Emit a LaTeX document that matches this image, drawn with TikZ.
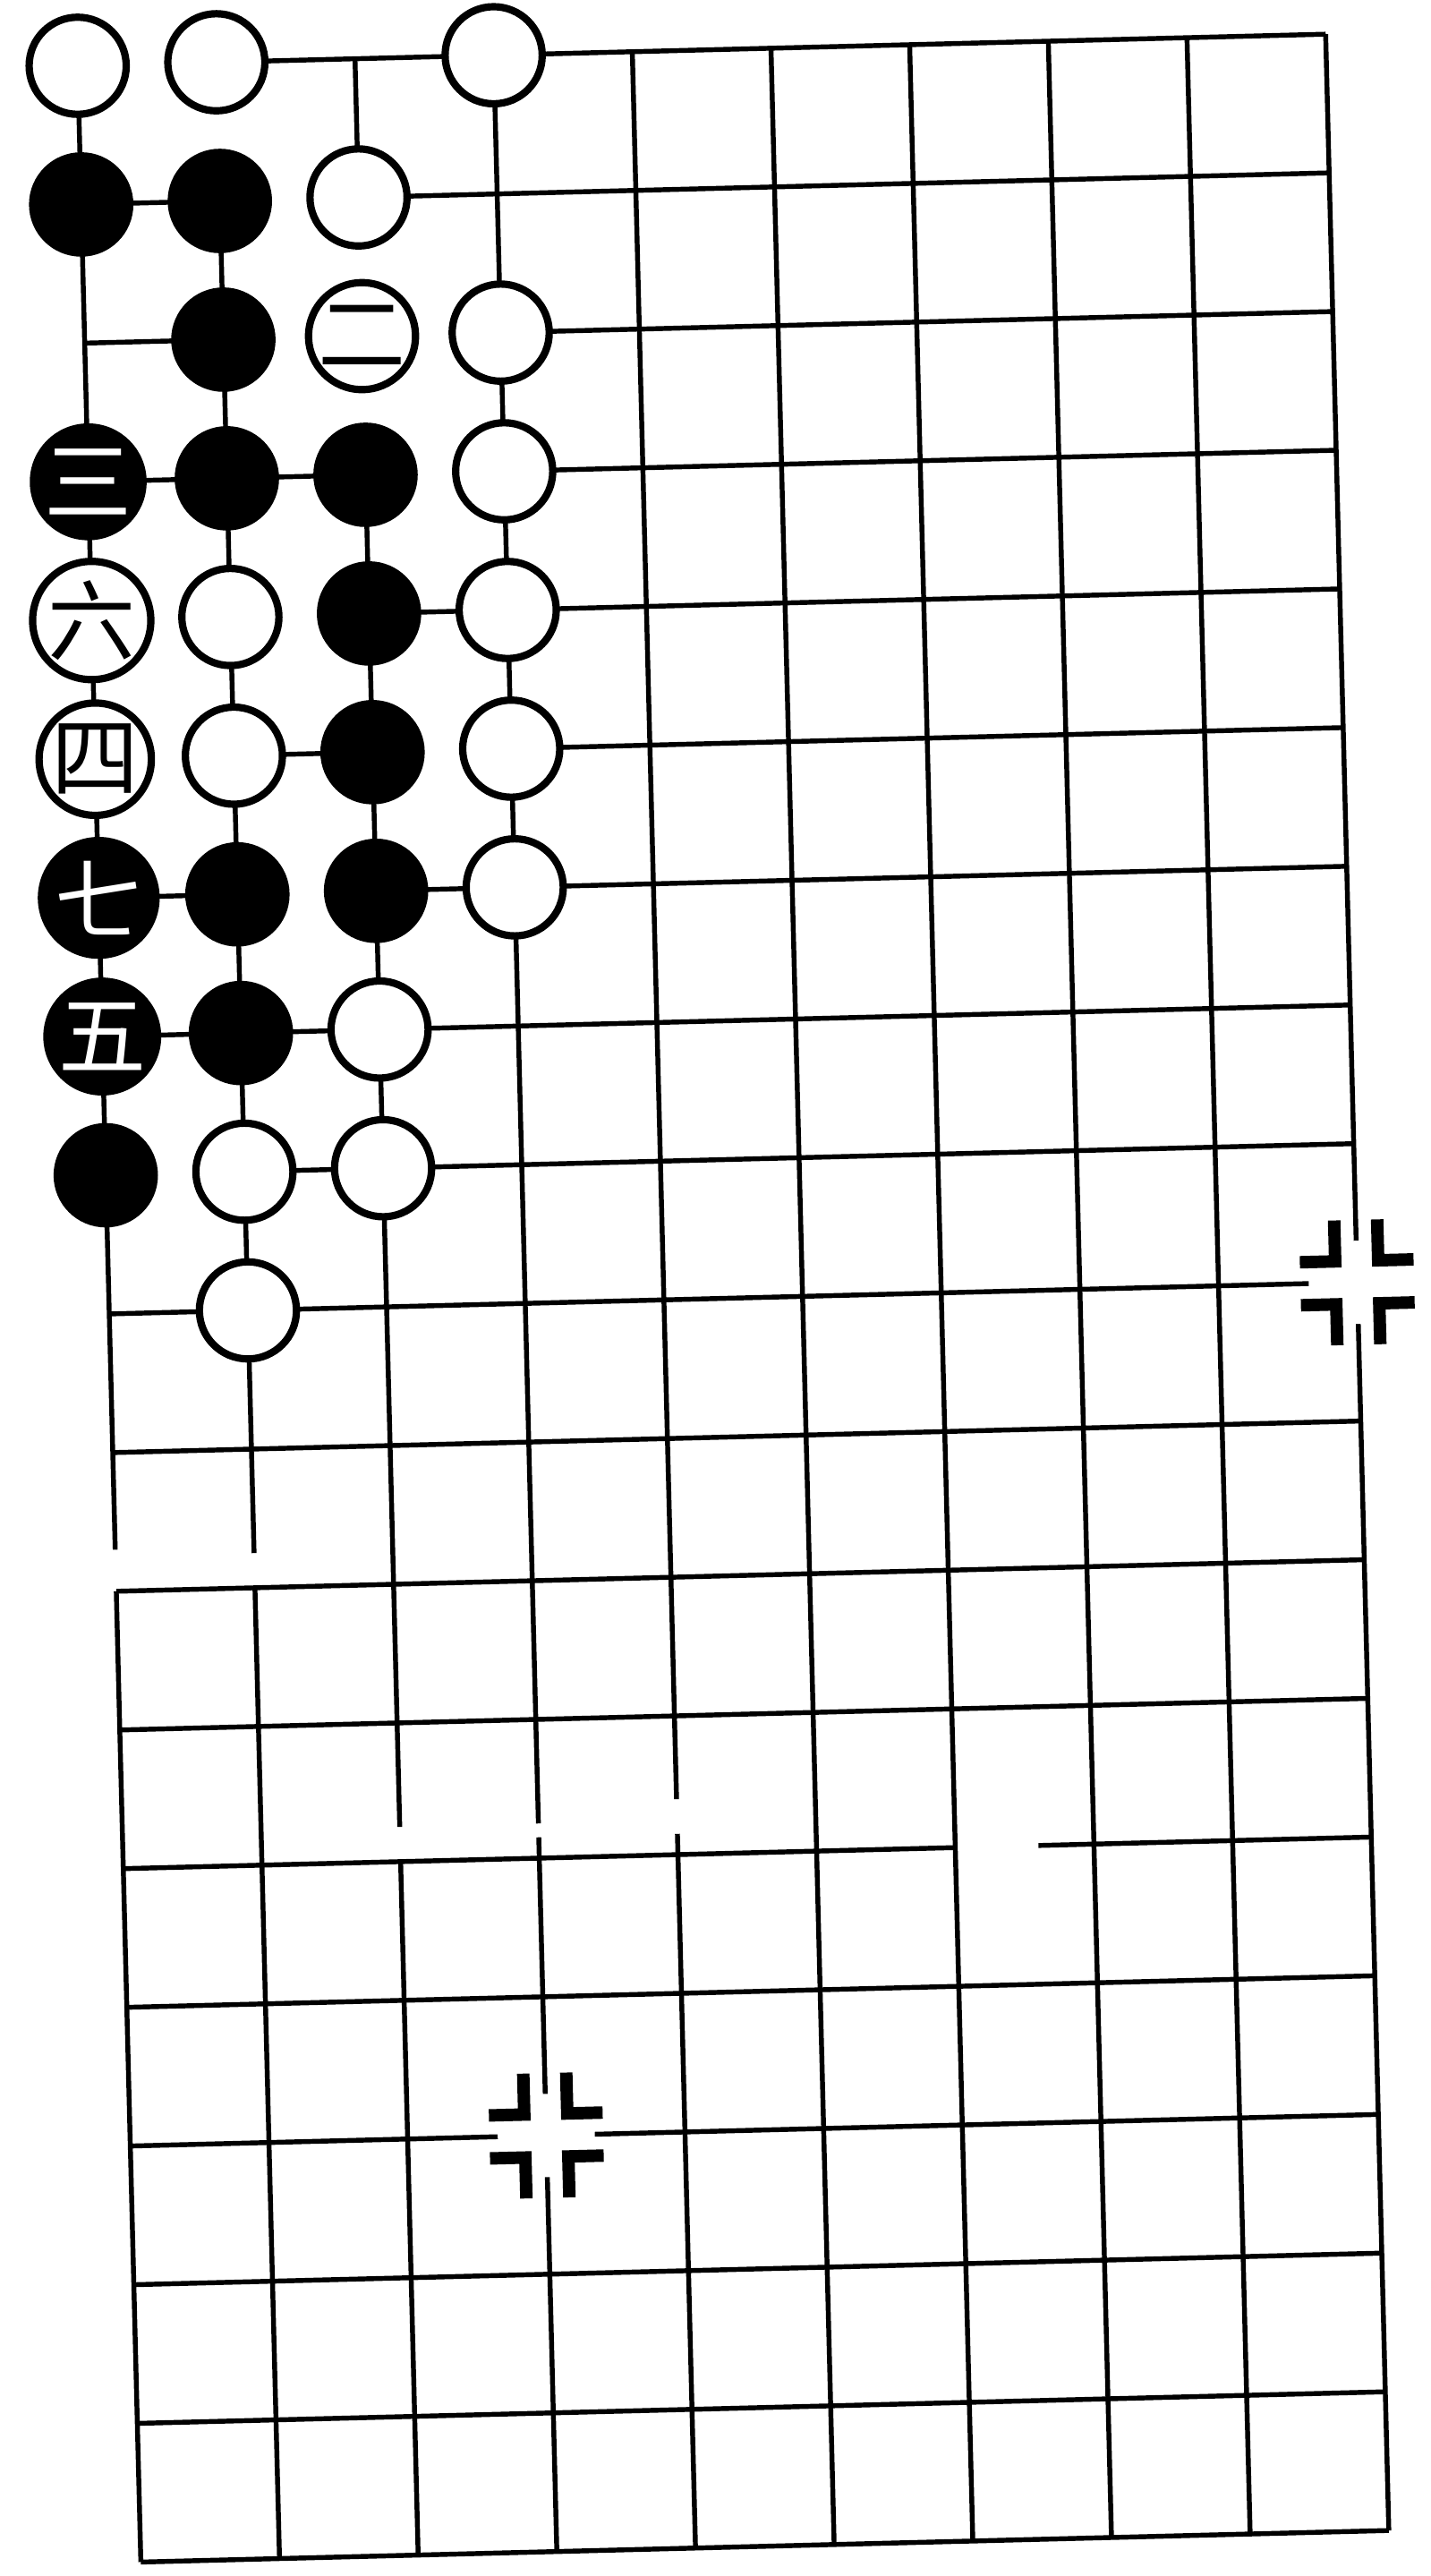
\documentclass[tikz,border=0pt]{standalone}
\usepackage{fontspec}
\newfontfamily\cjk{Noto Sans CJK TC}

% star point mark: four corner pieces round the point
\newcommand{\starmark}[1]{%
  \begin{scope}[shift={#1}]
    \fill[white] (-0.35,-0.3) rectangle (0.35,0.3);
    \foreach \sx/\sy in {1/1,-1/1,1/-1,-1/-1}
      \fill[xscale=\sx, yscale=\sy] (0.11,0.11) -- (0.41,0.11) -- (0.41,0.2)
        -- (0.2,0.2) -- (0.2,0.45) -- (0.11,0.45) -- cycle;
  \end{scope}}

\begin{document}
\begin{tikzpicture}[line width=1pt,
    wstone/.style={circle, draw, line width=1.5pt, fill=white, minimum size=0.7cm, inner sep=0pt,
      font=\cjk\fontsize{18pt}{18pt}\selectfont},
    bstone/.style={circle, draw, line width=1.5pt, fill=black, text=white, minimum size=0.7cm, inner sep=0pt,
      font=\cjk\fontsize{18pt}{18pt}\selectfont}]
  \useasboundingbox (0,0) rectangle (10.31,-18.568);

  % the board (half of it), a little tilted
  \begin{scope}[shift={(0.56,-0.474)}, rotate=1.45]

    % horizontal lines
    \draw (1,0) -- (9,0);
    \draw (0,-1) -- (1,-1) (2,-1) -- (9,-1);
    \draw (0,-2) -- (1,-2) (3,-2) -- (9,-2);
    \draw (0,-3) -- (2,-3) (3,-3) -- (9,-3);
    \draw (2,-4) -- (9,-4);
    \draw (1,-5) -- (2,-5) (3,-5) -- (9,-5);
    \draw (0,-6) -- (1,-6) (2,-6) -- (9,-6);
    \draw (0,-7) -- (9,-7);
    \draw (1,-8) -- (9,-8);
    \foreach \r in {9,10,11,12,14,15,16,17,18}
      \draw (0,-\r) -- (9,-\r);
    \draw (0,-13) -- (6,-13) (6.6,-13) -- (9,-13);

    % vertical lines
    \draw (0,0) -- (0,-10.7) (0,-11) -- (0,-18);
    \draw (1,-1) -- (1,-10.75) (1,-11) -- (1,-18);
    \draw (2,0) -- (2,-1) (2,-3) -- (2,-12.75) (2,-13) -- (2,-18);
    \draw (3,0) -- (3,-12.75) (3,-12.85) -- (3,-18);
    \draw (4,0) -- (4,-12.6) (4,-12.85) -- (4,-18);
    \foreach \c in {5,...,9}
      \draw (\c,0) -- (\c,-18);

    % star points
    \starmark{(9,-9)}
    \starmark{(3,-15)}

    % white stones
    \foreach \c/\r in {0/0,1/0,3/0,2/1,3/2,3/3,1/4,3/4,1/5,3/5,3/6,2/7,1/8,2/8,1/9}
      \node[wstone] (w\c\r) at (\c,-\r) {};
    \node[wstone] (w22) at (2,-2) {二};
    \node[wstone] (w04) at (0,-4) {六};
    \node[wstone] (w05) at (0,-5) {四};

    % black stones
    \foreach \c/\r in {0/1,1/1,1/2,1/3,2/3,2/4,2/5,1/6,2/6,1/7,0/8}
      \node[bstone] (b\c\r) at (\c,-\r) {};
    \node[bstone] (b03) at (0,-3) {三};
    \node[bstone] (b06) at (0,-6) {七};
    \node[bstone] (b07) at (0,-7) {五};

  \end{scope}
\end{tikzpicture}
\end{document}
